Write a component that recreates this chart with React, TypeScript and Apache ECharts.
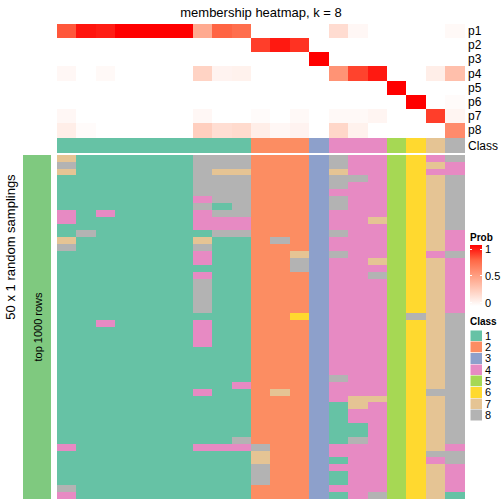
import React, { useEffect, useRef } from 'react';
import * as echarts from 'echarts';

const TITLE = 'membership heatmap, k = 8';
const LEFT_LABEL = '50 x 1 random samplings';
const ROW_ANNOT_LABEL = 'top 1000 rows';
const SAMPLES = Array.from({ length: 21 }, (_, i) => `c${i + 1}`);
const PROB_ROWS = ['p1', 'p2', 'p3', 'p4', 'p5', 'p6', 'p7', 'p8'];

const P1 = [0.79, 0.95, 0.93, 1, 1, 1, 1, 0.44, 0.76, 0.72, 0, 0, 0, 0, 0.18, 0.04, 0, 0, 0, 0, 0.03];
const P2 = [0, 0, 0, 0, 0, 0, 0, 0, 0, 0, 0.85, 0.94, 0.88, 0, 0, 0, 0, 0, 0, 0, 0];
const P3 = [0, 0, 0, 0, 0, 0, 0, 0, 0, 0, 0, 0, 0, 1, 0, 0, 0, 0, 0, 0, 0];
const P4 = [0.04, 0, 0.03, 0, 0, 0, 0, 0.23, 0.06, 0.07, 0, 0, 0, 0, 0.55, 0.84, 0.94, 0, 0, 0.09, 0.33];
const P5 = [0, 0, 0, 0, 0, 0, 0, 0, 0, 0, 0, 0, 0, 0, 0, 0, 0, 1, 0, 0, 0];
const P6 = [0, 0, 0, 0, 0, 0, 0, 0, 0, 0, 0, 0, 0, 0, 0, 0, 0, 0, 1, 0, 0.02];
const P7 = [0.04, 0, 0, 0, 0, 0, 0, 0.04, 0, 0, 0.02, 0, 0.03, 0, 0.03, 0.03, 0.05, 0, 0, 0.85, 0.05];
const P8 = [0.09, 0.02, 0, 0, 0, 0, 0, 0.25, 0.17, 0.19, 0.09, 0.04, 0.06, 0, 0.21, 0.07, 0, 0, 0, 0, 0.59];
const PROBS = [P1, P2, P3, P4, P5, P6, P7, P8];

const CLASS = [1, 1, 1, 1, 1, 1, 1, 1, 1, 1, 2, 2, 2, 3, 4, 4, 4, 5, 6, 7, 8];
const CLASS_LABELS = ['1', '2', '3', '4', '5', '6', '7', '8'];
const CLASS_COLORS = ['#66C2A5', '#FC8D62', '#8DA0CB', '#E78AC3', '#A6D854', '#FFD92F', '#E5C494', '#B3B3B3'];
const PROB_COLORS = ['#FFFFFF', '#FFCFBF', '#FF9E81', '#FF6846', '#FF0000'];
const PROB_TICKS = [1, 0.5, 0];
const ROW_ANNOT_COLOR = '#7FC97F';

// each string: class per column (spaces are only for readability)
const SAMPLINGS = [
  '7111111 888 222 3 844 56 48',
  '8111111 888 222 3 844 56 74',
  '7111111 877 222 3 744 56 44',
  '1111111 888 222 3 884 56 78',
  '1111111 888 222 3 844 56 78',
  '1111111 888 222 3 444 56 78',
  '1111111 488 222 3 844 56 78',
  '1111111 818 222 3 844 56 78',
  '4141111 488 222 3 444 56 78',
  '4111111 444 222 3 447 56 78',
  '1111111 444 222 3 444 56 78',
  '1811111 188 222 3 844 56 74',
  '7111111 711 282 3 444 56 74',
  '8111111 811 222 3 444 56 74',
  '1111111 411 227 3 844 56 48',
  '1111111 411 228 3 447 56 74',
  '1111111 111 228 3 444 56 74',
  '1111111 411 222 3 448 56 74',
  '1111111 811 222 3 444 56 74',
  '1111111 811 222 3 444 56 74',
  '1111111 811 222 3 444 56 74',
  '1111111 811 222 3 444 56 74',
  '1111111 811 222 3 444 56 74',
  '1111111 111 226 3 444 58 78',
  '1141111 411 222 3 444 56 78',
  '1111111 411 222 3 444 56 78',
  '1111111 411 222 3 444 56 78',
  '1111111 411 222 3 444 56 78',
  '1111111 111 222 3 444 56 78',
  '1111111 111 222 3 444 56 78',
  '1111111 111 222 3 444 56 78',
  '1111111 111 222 3 444 56 78',
  '1111111 111 222 3 844 56 78',
  '1111111 114 222 3 444 56 78',
  '1111111 411 272 3 444 56 88',
  '1111111 111 222 3 477 56 78',
  '1111111 111 222 3 174 56 78',
  '1111111 111 222 3 144 56 78',
  '1111111 111 222 3 144 56 78',
  '1111111 111 222 3 114 56 78',
  '1111111 111 222 3 114 56 78',
  '1111111 118 222 3 184 56 78',
  '4111111 444 822 3 444 56 74',
  '1111111 111 722 3 444 56 88',
  '1111111 111 722 3 144 56 48',
  '1111111 111 822 3 444 56 74',
  '1111111 111 822 3 144 56 74',
  '1111111 111 822 3 144 56 74',
  '8111111 111 222 3 444 56 74',
  '4111111 111 222 3 148 56 71',
];

const FONT = "'Liberation Sans', Arial, Helvetica, sans-serif";

export default function App() {
  const ref = useRef<HTMLDivElement>(null);
  useEffect(() => {
    document.body.style.margin = '0';
    if (!ref.current) return;
    const chart = echarts.init(ref.current, undefined, { renderer: 'svg' });

    const probData: number[][] = [];
    PROBS.forEach((row, r) => row.forEach((v, c) => probData.push([c, r, v])));
    const classData = CLASS.map((v, c) => [c, 0, v]);
    const sampRows = SAMPLINGS.map((s) => s.replace(/\s/g, '').split('').map(Number));
    const sampData: number[][] = [];
    sampRows.forEach((row, r) => row.forEach((v, c) => sampData.push([c, r, v])));
    const sampCats = sampRows.map((_, i) => `r${i + 1}`);

    const hidden = { show: false };
    const rightLabel = {
      position: 'right' as const,
      axisLine: hidden,
      axisTick: hidden,
      splitLine: hidden,
      axisLabel: { interval: 0, margin: 3, fontSize: 12, color: '#000', fontFamily: FONT },
    };

    const legendX = 470;
    const graphic: any[] = [
      { type: 'text', z: 100, x: 261, y: 12, style: { text: TITLE, fontSize: 13, fontFamily: FONT, fill: '#000', align: 'center', verticalAlign: 'middle' } },
      { type: 'text', z: 100, x: 10, y: 247, rotation: Math.PI / 2, style: { text: LEFT_LABEL, fontSize: 13, fontFamily: FONT, fill: '#000', align: 'center', verticalAlign: 'middle' } },
      { type: 'text', z: 100, x: 38, y: 327, rotation: Math.PI / 2, style: { text: ROW_ANNOT_LABEL, fontSize: 11, fontFamily: FONT, fill: '#000', align: 'center', verticalAlign: 'middle' } },
      { type: 'text', z: 100, x: legendX, y: 237, style: { text: 'Prob', fontSize: 10, fontWeight: 'bold', fontFamily: FONT, fill: '#000', align: 'left', verticalAlign: 'middle' } },
      {
        type: 'rect', z: 100, shape: { x: legendX, y: 245, width: 12, height: 61 },
        style: {
          fill: new echarts.graphic.LinearGradient(0, 0, 0, 1, PROB_COLORS.slice().reverse().map((c, i) => ({ offset: i / (PROB_COLORS.length - 1), color: c }))),
        },
      },
      { type: 'text', z: 100, x: legendX, y: 321, style: { text: 'Class', fontSize: 10, fontWeight: 'bold', fontFamily: FONT, fill: '#000', align: 'left', verticalAlign: 'middle' } },
    ];
    PROB_TICKS.forEach((t) => {
      const y = 302.5 - t * 53.5;
      graphic.push({ type: 'text', z: 100, x: 485, y, style: { text: String(t), fontSize: 11, fontFamily: FONT, fill: '#000', align: 'left', verticalAlign: 'middle' } });
      graphic.push({ type: 'line', z: 101, shape: { x1: legendX, y1: y, x2: legendX + 2, y2: y }, style: { stroke: '#fff', lineWidth: 1 } });
      graphic.push({ type: 'line', z: 101, shape: { x1: legendX + 10, y1: y, x2: legendX + 12, y2: y }, style: { stroke: '#fff', lineWidth: 1 } });
    });
    CLASS_LABELS.forEach((lab, i) => {
      const y = 330 + i * 11.35;
      graphic.push({ type: 'rect', z: 100, shape: { x: legendX, y, width: 12, height: 11.35 }, style: { fill: CLASS_COLORS[i], stroke: '#fff', lineWidth: 0.5 } });
      graphic.push({ type: 'text', z: 100, x: 485, y: y + 5.7, style: { text: lab, fontSize: 11, fontFamily: FONT, fill: '#000', align: 'left', verticalAlign: 'middle' } });
    });

    const hm = (xi: number, data: number[][]) => ({
      type: 'heatmap', xAxisIndex: xi, yAxisIndex: xi, data,
      itemStyle: { borderWidth: 0 },
      emphasis: { disabled: true }, progressive: 0, silent: true,
    });

    chart.setOption({
      animation: false,
      textStyle: { fontFamily: FONT },
      grid: [
        { left: 57, top: 24, width: 408, height: 113.5 },
        { left: 57, top: 138.5, width: 408, height: 14.5 },
        { left: 57, top: 155, width: 408, height: 344 },
        { left: 23, top: 155, width: 28, height: 344 },
      ],
      xAxis: [0, 1, 2].map((g) => ({ type: 'category', gridIndex: g, data: SAMPLES, show: false }))
        .concat([{ type: 'category', gridIndex: 3, data: ['a'], show: false }]),
      yAxis: [
        { type: 'category', gridIndex: 0, data: PROB_ROWS, inverse: true, ...rightLabel },
        { type: 'category', gridIndex: 1, data: ['Class'], ...rightLabel },
        { type: 'category', gridIndex: 2, data: sampCats, inverse: true, show: false },
        { type: 'category', gridIndex: 3, data: ['a'], show: false },
      ],
      visualMap: [
        { type: 'continuous', seriesIndex: 0, min: 0, max: 1, dimension: 2, show: false, inRange: { color: PROB_COLORS } },
        { type: 'piecewise', seriesIndex: [1, 2], dimension: 2, show: false, pieces: CLASS_COLORS.map((c, i) => ({ value: i + 1, color: c })) },
        { type: 'piecewise', seriesIndex: 3, dimension: 2, show: false, pieces: [{ value: 1, color: ROW_ANNOT_COLOR }] },
      ],
      series: [hm(0, probData), hm(1, classData), hm(2, sampData), hm(3, [[0, 0, 1]])],
      graphic,
    });
    return () => chart.dispose();
  }, []);
  return (
    <>
      <style>{'.hm-chart svg path { shape-rendering: crispEdges; }'}</style>
      <div className="hm-chart" ref={ref} style={{ width: 504, height: 504 }} />
    </>
  );
}
